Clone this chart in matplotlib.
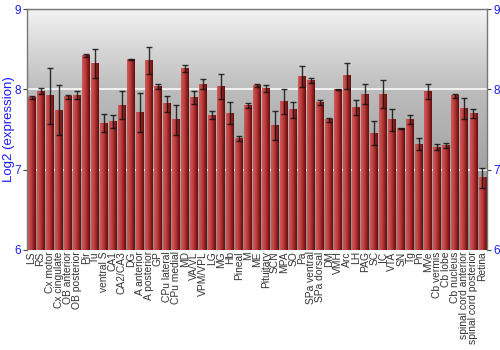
import numpy as np
import matplotlib
matplotlib.use("Agg")
import matplotlib.pyplot as plt
from matplotlib.colors import LinearSegmentedColormap

# regions (x axis), mean log2 expression, error (+-)
regions = ["LS", "RS", "Cx motor", "Cx cingulate", "OB anterior", "OB posterior",
           "Pir", "Tu", "ventral S", "CA1", "CA2/CA3", "DG", "A anterior",
           "A posterior", "GP", "CPu lateral", "CPu medial", "MD", "VA/VL",
           "VPM/VPL", "LG", "MG", "Hb", "Pineal", "M", "ME", "Pituitary", "SCN",
           "MPA", "SO", "Pa", "SPa ventral", "SPa dorsal", "DM", "VMH", "Arc",
           "LH", "PAG", "SC", "IC", "VTA", "SN", "Tg", "Pn", "MVe", "Cb vermis",
           "Cb lobe", "Cb nucleus", "spinal cord anterior", "spinal cord posterior",
           "Retina"]
expr = [7.90, 7.98, 7.92, 7.74, 7.91, 7.93, 8.42, 8.32, 7.58, 7.60, 7.80, 8.37,
        7.71, 8.36, 8.04, 7.82, 7.62, 8.26, 7.90, 8.065, 7.68, 8.04, 7.70, 7.39,
        7.80, 8.045, 8.01, 7.55, 7.845, 7.745, 8.16, 8.11, 7.84, 7.62, 7.995,
        8.17, 7.77, 7.94, 7.455, 7.94, 7.62, 7.51, 7.62, 7.32, 7.975, 7.28,
        7.30, 7.92, 7.76, 7.70, 6.90]
err = [0.015, 0.04, 0.35, 0.31, 0.025, 0.055, 0.017, 0.18, 0.11, 0.083, 0.175,
       0.008, 0.24, 0.17, 0.03, 0.10, 0.19, 0.045, 0.077, 0.06, 0.054, 0.154,
       0.137, 0.035, 0.035, 0.02, 0.046, 0.18, 0.154, 0.10, 0.13, 0.033, 0.03,
       0.025, 0.008, 0.16, 0.095, 0.127, 0.147, 0.173, 0.133, 0.008, 0.056,
       0.07, 0.09, 0.037, 0.027, 0.022, 0.13, 0.052, 0.125]
yticks = [6, 7, 8, 9]

BLUE = "#1a1aff"
plt.rcParams["font.family"] = ["Liberation Sans", "DejaVu Sans"]

fig = plt.figure(figsize=(5, 3.5), dpi=100)
ax = fig.add_axes([0.054, 0.286, 0.92, 0.688])
ymin, ymax = yticks[0], yticks[-1]
x = np.arange(len(regions))
ax.set_xlim(-0.5, len(regions) - 0.5)
ax.set_ylim(ymin, ymax)

# gray gradient background (dark bottom -> light top)
bg = LinearSegmentedColormap.from_list(
    "bg", [(0, "#8e8e8e"), (0.33, "#a2a2a2"), (0.66, "#bcbcbc"),
           (0.83, "#d6d6d6"), (1, "#f3f3f3")])
grad = np.linspace(0, 1, 256).reshape(-1, 1)
ax.imshow(grad, cmap=bg, origin="lower", aspect="auto",
          extent=(-0.5, len(regions) - 0.5, ymin, ymax), zorder=0)

for yy in yticks[1:-1]:
    ax.axhline(yy, color="white", lw=1.3, alpha=0.85, zorder=1)

# bars with cylinder-like horizontal shading
barcm = LinearSegmentedColormap.from_list(
    "bar", ["#cc5a5a", "#c84c4c", "#bc3e3e", "#a62c2c", "#801a1a", "#621010"])
shade = np.linspace(0, 1, 32).reshape(1, -1)
w = 0.88
for xi, v in zip(x, expr):
    ax.imshow(shade, cmap=barcm, aspect="auto",
              extent=(xi - w / 2, xi + w / 2, ymin, v), zorder=2)

ax.errorbar(x, expr, yerr=err, fmt="none", ecolor="#111111", elinewidth=1,
            capsize=2, capthick=1, alpha=0.85, zorder=3)

ax.set_xticks(x)
ax.set_xticklabels(regions, rotation=90, fontsize=7.4, color="#333333")
ax.set_yticks(yticks)
ax.tick_params(axis="x", length=0, pad=1)
ax.tick_params(axis="y", colors="#444444", labelcolor=BLUE, labelsize=8.5,
               length=3, right=True, labelright=True, pad=1.5)
ax.set_ylabel("Log2 (expression)", color=BLUE, fontsize=9.5)
ax.yaxis.set_label_coords(-0.026, 0.5)

for s in ["left", "top", "right"]:
    ax.spines[s].set_color("#777777")
    ax.spines[s].set_linewidth(1)
ax.spines["bottom"].set_visible(False)

fig.savefig("out.png", dpi=100)
